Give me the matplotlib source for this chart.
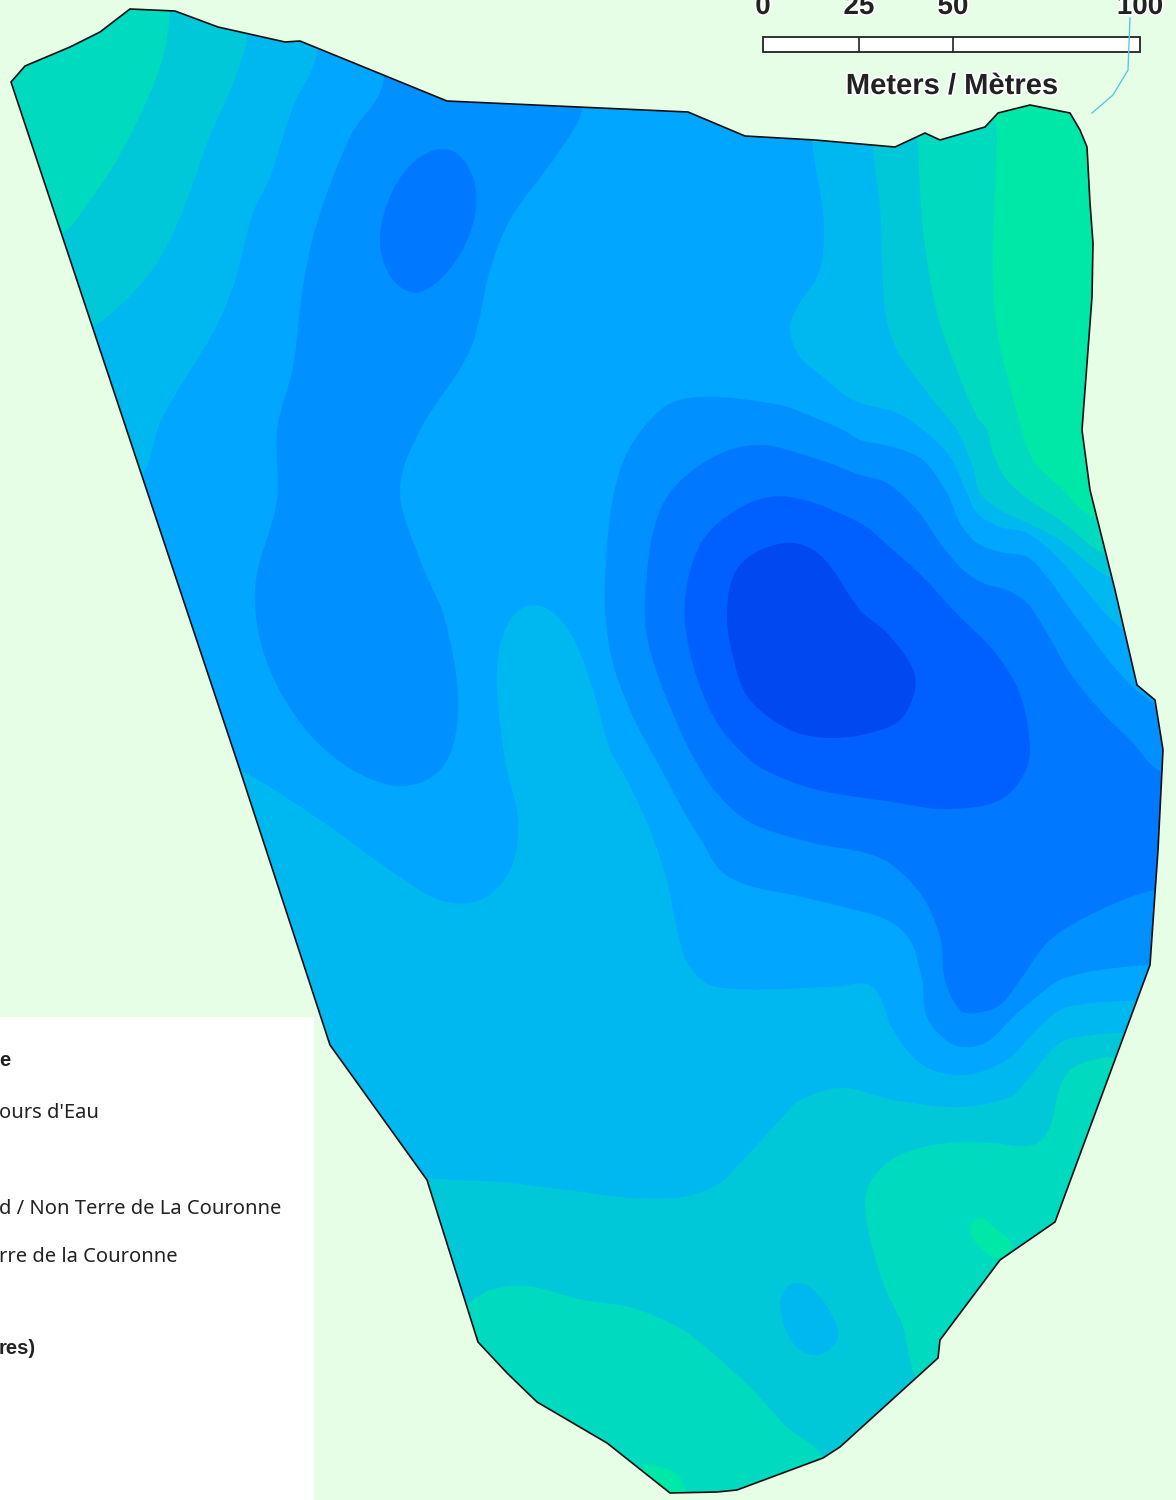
import numpy as np
import matplotlib
matplotlib.use("Agg")
import matplotlib.pyplot as plt
import matplotlib.patheffects as pe
from matplotlib.path import Path
from matplotlib.patches import PathPatch, Polygon, Rectangle

# ── 1. Map data (map units = image pixels) ───────────────────────────
parcel = [(11,82),(25,66),(70,47),(100,32),(130,9),(175,11),(218,27),(285,42),(300,41),(447,101),(688,112),
          (745,136),(815,140),(895,147),(925,133),(940,140),(985,127),(998,113),(1030,105),(1070,113),
          (1080,130),(1087,147),(1090,203),(1093,243),(1092,297),(1085,390),(1082,430),(1090,490),(1115,590),
          (1137,685),(1155,700),(1163,750),(1158,850),(1150,965),(1055,1222),(1000,1260),(970,1300),
          (940,1340),(938,1358),(840,1447),(823,1458),(737,1490),(717,1492),(670,1493),(607,1443),(537,1402),
          (507,1373),(478,1342),(427,1180),(330,1045),(240,770),(140,470)]

level_3 = [(247,-40),(247,37),(233,83),(207,143),(187,200),(163,253),(133,293),(93,327),(20,370),(40,700),
           (250,1150),(428,1178),(500,1182),(567,1190),(633,1198),(683,1197),(720,1183),(743,1160),(780,1120),
           (800,1100),(843,1088),(893,1100),(960,1107),(1010,1097),(1027,1080),(1060,1043),(1093,1035),
           (1123,1033),(1230,1030),(1260,800),(1230,610),(1110,577),(1060,540),(1027,523),(1000,510),(980,493),
           (973,467),(957,430),(947,417),(923,387),(897,350),(885,310),(880,207),(873,147),(865,-40)]
level_4 = [(317,-40),(317,53),(293,107),(270,177),(253,213),(233,287),(213,333),(180,387),(160,423),(140,480),
           (60,560),(120,720),(240,770),(320,820),(390,870),(440,900),(480,900),(510,870),(518,820),(505,760),
           (497,670),(510,620),(535,605),(565,625),(590,680),(610,750),(627,780),(650,830),(667,880),(677,930),
           (690,967),(717,987),(833,987),(867,984),(880,997),(893,1030),(923,1065),(963,1075),(1007,1060),
           (1030,1037),(1060,1010),(1093,1003),(1140,1000),(1240,990),(1270,800),(1200,670),(1120,627),
           (1060,560),(1027,533),(1000,527),(977,513),(967,493),(950,457),(923,430),(897,413),(853,400),
           (823,377),(800,357),(790,330),(797,307),(817,277),(823,253),(823,213),(812,140),(805,-40)]
level_5_left = [(383,-40),(383,83),(350,137),(317,223),(303,287),(293,367),(277,430),(277,500),(255,590),
                (270,670),(320,745),(390,785),(440,770),(458,710),(445,620),(420,560),(400,490),(420,430),
                (470,350),(490,270),(510,220),(560,150),(582,110),(600,-40)]
level_5 = [(605,580),(620,470),(660,410),(700,397),(780,405),(813,417),(843,430),(860,440),(893,447),(923,460),
           (947,493),(960,523),(977,543),(1000,552),(1027,557),(1047,577),(1073,613),(1133,687),(1230,760),
           (1260,860),(1230,960),(1150,965),(1100,970),(1060,980),(1033,1000),(1013,1017),(990,1040),(970,1047),
           (950,1043),(927,1017),(922,980),(910,940),(887,920),(847,908),(793,895),(747,885),(720,870),(703,843),
           (683,810),(667,780),(630,710),(610,650)]
level_6 = [(645,600),(660,510),(700,465),(755,445),(820,460),(860,475),(887,483),(917,510),(940,543),
           (963,570),(983,583),(1007,590),(1027,603),(1047,633),(1070,673),(1100,710),(1133,743),(1158,770),
           (1240,800),(1260,860),(1230,885),(1155,890),(1100,910),(1050,940),(1020,980),(1000,1005),
           (975,1013),(960,1010),(945,980),(940,937),(920,893),(880,858),(813,843),(760,827),(733,810),(707,780),
           (680,730),(650,650)]
level_7 = [(685,620),(700,545),(745,505),(790,497),(860,523),(893,550),(923,577),(953,610),(993,650),
           (1017,687),(1028,727),(1027,767),(1000,800),(943,809),(893,802),(827,792),(787,780),(750,760),(710,710)]
level_8 = [(727,610),(740,565),(785,543),(820,555),(860,610),(887,633),(912,667),(915,690),(900,720),
           (870,733),(830,738),(790,730),(750,700),(735,665)]
blue_pocket = [(380,240),(393,190),(420,157),(450,150),(472,175),(475,215),(455,262),(420,292),(393,280)]

level_1_corner = [(172,-40),(170,13),(163,57),(147,100),(117,160),(90,200),(63,233),(-40,280),(-60,-40)]
level_1_east = [(918,100),(918,143),(923,230),(937,313),(957,370),(977,417),(987,430),(993,453),(1007,480),
                (1033,503),(1060,520),(1103,553),(1230,600),(1260,300),(1230,60),(1000,40)]
level_1_south = [(420,1320),(468,1303),(490,1290),(527,1286),(583,1300),(633,1308),(683,1330),(717,1357),
                 (753,1390),(787,1427),(820,1453),(860,1530),(600,1580),(420,1500)]
level_1_se = [(1113,1058),(1093,1060),(1070,1070),(1058,1093),(1050,1127),(1033,1145),(993,1143),(960,1142),
              (920,1148),(887,1163),(867,1190),(867,1223),(883,1283),(903,1327),(913,1370),(950,1440),
              (1150,1340),(1230,1100)]
level_3_pocket = [(780,1303),(790,1285),(810,1287),(833,1317),(837,1340),(817,1355),(793,1343)]
level_0_east = [(997,60),(997,140),(993,263),(997,330),(1010,387),(1022,430),(1033,460),(1060,487),(1093,517),
                (1230,560),(1260,300),(1230,40)]
level_0_spot = [(970,1230),(980,1218),(993,1227),(1012,1245),(1000,1258),(983,1250)]
level_0_south = [(643,1468),(660,1467),(680,1477),(683,1500),(660,1495)]

stream = [(1130,18),(1128,70),(1113,95),(1092,113)]

scale_ticks = [763, 859, 953, 1140]
scale_labels = ["0", "25", "50", "100"]

legend_rows = [(1060, "e", True), (1112, "ours d'Eau", False),
               (1208, "d / Non Terre de La Couronne", False),
               (1256, "rre de la Couronne", False), (1348, "res)", True)]

# ── 2. Colours ───────────────────────────────────────────────────────
BG = "#E6FDE6"
C0, C1, C2, C3, C4 = "#00E8A8", "#00DABE", "#00C8D8", "#00B8F0", "#00A6FF"
C5, C6, C7, C8 = "#0090FF", "#0078FF", "#0060FF", "#0048F0"

layers = [(level_3, C3), (level_1_corner, C1), (level_1_east, C1), (level_1_south, C1), (level_1_se, C1),
          (level_3_pocket, C3), (level_0_east, C0), (level_0_spot, C0), (level_0_south, C0),
          (level_4, C4), (level_5_left, C5), (level_5, C5), (level_6, C6), (level_7, C7), (level_8, C8),
          (blue_pocket, C6)]


def smooth_path(pts):
    # closed spline through the contour points, handle length follows segment length
    p = np.array(pts, dtype=float)
    n = len(p)
    tang = np.roll(p, -1, axis=0) - np.roll(p, 1, axis=0)
    tang = tang / np.linalg.norm(tang, axis=1, keepdims=True)
    verts = [p[0]]
    codes = [Path.MOVETO]
    for i in range(n):
        j = (i + 1) % n
        seg = np.linalg.norm(p[j] - p[i]) / 3
        verts += [p[i] + tang[i] * seg, p[j] - tang[j] * seg, p[j]]
        codes += [Path.CURVE4] * 3
    return Path(verts, codes)


# ── 3. Plot ──────────────────────────────────────────────────────────
fig = plt.figure(figsize=(11.76, 15), dpi=100)
fig.patch.set_facecolor(BG)
ax = fig.add_axes([0, 0, 1, 1])
ax.set_xlim(0, 1176)
ax.set_ylim(1500, 0)
ax.axis("off")

# legend panel, cut by the frame
ax.add_patch(Rectangle((0, 1017), 314, 483, fc="white", ec="none", zorder=1))
for y, txt, bold in legend_rows:
    ax.text(-1, y + 1, txt, fontsize=14.5, family="Noto Sans" if not bold else "Liberation Sans",
            fontweight="bold" if bold else "normal", va="center", ha="left", color="#222222", zorder=2)

# contour bands, clipped on the parcel
base = Polygon(parcel, closed=True, fc=C2, ec="none", zorder=3)
ax.add_patch(base)
for pts, col in layers:
    patch = PathPatch(smooth_path(pts), fc=col, ec="none", zorder=4)
    ax.add_patch(patch)
    patch.set_clip_path(base)
ax.add_patch(Polygon(parcel, closed=True, fc="none", ec="#101010", lw=1.2, zorder=5))

# scale bar
halo = [pe.withStroke(linewidth=2.5, foreground="white")]
ax.add_patch(Rectangle((scale_ticks[0], 37), scale_ticks[-1] - scale_ticks[0], 15, fc="white", ec="#222222",
                       lw=1.3, zorder=6))
ax.vlines(scale_ticks[1:-1], 37, 52, color="#222222", lw=1.2, zorder=7)
for x, lab in zip(scale_ticks, scale_labels):
    ax.text(x, 14, lab, fontsize=20, family="Liberation Sans", fontweight="bold", ha="center", va="baseline",
            color="#222222", path_effects=halo, zorder=8)
ax.text(952, 94, "Meters / Mètres", fontsize=21, family="Liberation Sans", fontweight="bold", ha="center",
        va="baseline", color="#222222", path_effects=halo, zorder=8)

xs, ys = zip(*stream)
ax.plot(xs, ys, color="#5CC8E0", lw=1.0, zorder=7)

fig.savefig("out.png", dpi=100, facecolor=BG)
